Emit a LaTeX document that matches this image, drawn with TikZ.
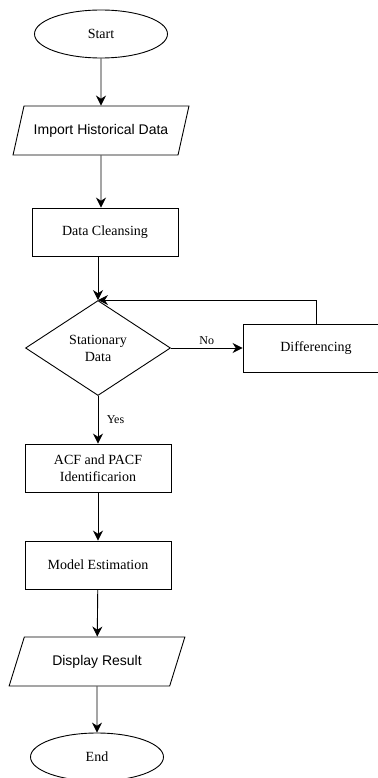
\documentclass[tikz,border=0pt]{standalone}
\usepackage{fontspec}
\setmainfont{Liberation Serif}
\newfontfamily\arialfont{Liberation Sans}
\usetikzlibrary{arrows.meta,shapes.geometric}

\begin{document}
\begin{tikzpicture}[x=1pt,y=-1pt,>={Stealth[length=10pt,width=10pt]},line width=0.9pt,
	term/.style={draw,ellipse,minimum width=133pt,minimum height=48pt,
		font=\fontsize{14}{17}\selectfont},
	proc/.style={draw,rectangle,minimum width=146pt,minimum height=48pt,
		align=center,font=\fontsize{14}{17}\selectfont},
	cond/.style={draw,diamond,aspect=1.5,inner sep=0pt,minimum width=145pt,
		minimum height=95pt,align=center,font=\fontsize{14}{17}\selectfont},
	io/.style={draw,trapezium,trapezium left angle=63,trapezium right angle=117,
		trapezium stretches=true,minimum width=176pt,minimum height=49pt,
		font=\arialfont\fontsize{14}{17}\selectfont},
	lab/.style={font=\fontsize{12}{14}\selectfont}]

\useasboundingbox (0,0) rectangle (377,778);

\node[term] (start) at (101,34) {Start};
\node[io] (impor) at (101,130.5) {Import Historical Data};
\node[proc] (clean) at (105,232) {Data Cleansing};
\node[cond] (stat) at (98,348) {Stationary\\Data};
\node[proc] (diff) at (316,348) {Differencing};
\node[proc] (acf) at (98,468) {ACF and PACF\\Identificarion};
\node[proc] (model) at (98,565) {Model Estimation};
\node[io] (show) at (97,661.5) {Display Result};
\node[term] (ende) at (97,757) {End};

\draw[->] (start) -- (impor);
\draw[->] (impor) -- (impor |- clean.north);
\draw[->] (clean.south -| stat) -- (stat);
\draw[->] (stat) -- node[lab,above] {No} (diff);
\draw[->] (diff.north) |- (stat.north);
\draw[->] (stat) -- node[lab,right=5pt] {Yes} (acf);
\draw[->] (acf) -- (model);
\draw[->] (model) -- (show);
\draw[->] (show) -- (ende);

\end{tikzpicture}
\end{document}
